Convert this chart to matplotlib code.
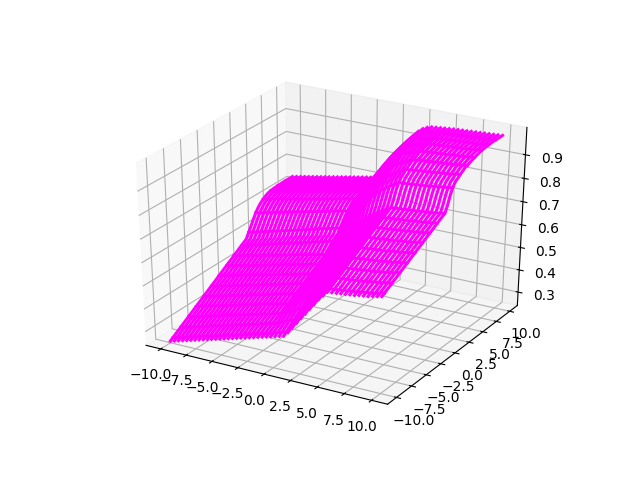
import numpy as np
import matplotlib
matplotlib.use('Agg')
import matplotlib.pyplot as plt

x_grid = np.linspace(-10, 10, 50)
y_grid = np.linspace(-10, 10, 50)
z_ticks = [.3, .4, .5, .6, .7, .8, .9]
z_left = [.2464,.2543,.2622,.2700,.2779,.2859,.2937,.3017,.3095,.3175,.3253,.3333,.3411,.3491,.3568,.3648,.3726,.3806,.3884,.3968,.4042,.4126,.4200,.4284,.4357,.4442,.4515,.4599,.4673,.4757,.4831,
          .5062,.5283,.5515,.5736,.5904,.6030,.6135,.6209,.6272,.6304,.6325,.6335,.6346,.6346,.6356,.6356,.6356,.6356,.6356]
z_right = [.6525,.6588,.6661,.6724,.6798,.6861,.6924,.6998,.7061,.7135,.7198,.7271,.7335,.7398,.7471,.7534,.7608,.7671,.7745,.7808,.7871,.7945,.8008,.8081,.8145,
           .8208,.8460,.8807,.9070,.9239,.9323,.9418,.9491,.9575,.9600,.9650,.9700,.9740,.9780,.9810,.9840,.9860,.9875,.9885,.9895,.9900,.9900,.9900,.9900,.9900]
blend_front = [.000,.013,.026,.039,.052,.065,.078,.091,.104,.117,.130,.143,.156,.169,.182,.195,.208,.221,.234,.247,.260,.273,.286,.299,.312,.325,.338,.351,
               .400,.460,.520,.580,.640,.700,.760,.820,.870,.920,.925,.930,.935,.940,.945,.950,.960,.965,.970,.980,.990,1.0]
blend_back = [.000,.010,.020,.030,.040,.050,.060,.070,.080,.090,.100,.110,.120,.130,.140,.150,.160,.171,.181,.190,.200,.210,.220,
              .290,.380,.470,.560,.650,.730,.800,.860,.900,.925,.940,
              .945,.950,.955,.960,.965,.968,.971,.974,.977,.980,.983,.986,.989,.992,.996,1.0]
row_count = len(y_grid)
row_fraction = [j / (row_count - 1) for j in range(row_count)]
Z = np.array([[z_left[j] + (f * (1 - t) + b * t) * (z_right[j] - z_left[j])
               for j, t in enumerate(row_fraction)]
              for f, b in zip(blend_front, blend_back)])

fig = plt.figure(figsize=(6.4, 4.8), dpi=100)
ax = fig.add_subplot(projection='3d')
ax.set_box_aspect((1, 1, 1), zoom=0.945)
ax.apply_aspect = lambda position=None: None
for i, xv in enumerate(x_grid):
    ax.plot([xv] * row_count, y_grid, Z[i], '-', color='magenta', lw=2.2)
for j in range(1, row_count - 1, 3):
    ax.plot(x_grid, [y_grid[j]] * len(x_grid), Z[:, j], '-', color='magenta', lw=2.0)
ax.set_zlim(.239, 1.014)
ax.set_zticks(z_ticks)
fig.savefig('out.png', dpi=100)
